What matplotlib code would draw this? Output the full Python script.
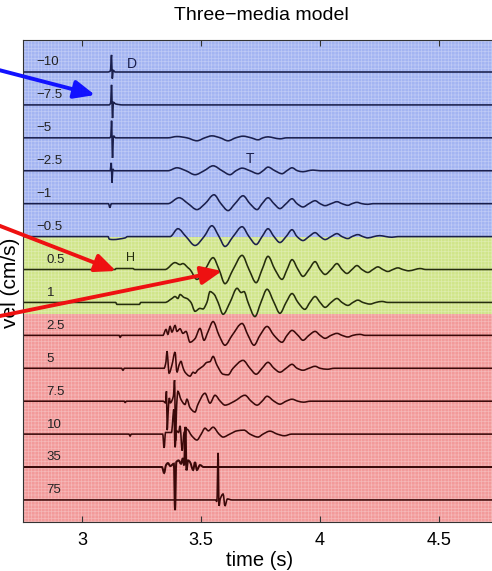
import matplotlib
matplotlib.use("Agg")
import matplotlib.pyplot as plt
from matplotlib.path import Path
from matplotlib.patches import PathPatch, FancyArrowPatch
import numpy as np

plt.rcParams['font.family'] = ['Liberation Sans', 'DejaVu Sans']
plt.rcParams['hatch.linewidth'] = 0.5

# station labels (top to bottom) and the seismogram:
# time in s, amplitude in units of the trace spacing
labels = ['\u221210', '\u22127.5', '\u22125', '\u22122.5', '\u22121', '\u22120.5',
          '0.5', '1', '2.5', '5', '7.5', '10', '35', '75']

t_m10 = [2.75, 3.108, 3.118, 3.123, 3.126, 3.130, 3.138, 4.75]
a_m10 = [0, 0, 0.03, 0.52, -0.20, 0.05, 0, 0]

t_m7p5 = [2.75, 3.112, 3.119, 3.123, 3.127, 3.131, 3.140, 3.170, 4.75]
a_m7p5 = [0, 0, 0.05, 0.61, -0.40, 0.08, 0.03, 0, 0]

t_m5 = [2.75, 3.115, 3.120, 3.123, 3.127, 3.131, 3.140, 3.360, 3.398, 3.440, 3.482,
        3.515, 3.545, 3.580, 3.613, 3.645, 3.676, 3.710, 3.739, 3.760, 3.781, 3.805,
        3.831, 3.860, 4.75]
a_m5 = [0, 0, 0.05, 0.52, -0.61, 0.06, 0, 0, 0.04, 0, -0.09,
        0, 0.06, 0, -0.09, 0, 0.05, 0, -0.06, 0, 0.03, 0,
        -0.03, 0, 0]

t_m2p5 = [2.75, 3.117, 3.122, 3.125, 3.128, 3.134, 3.360, 3.398, 3.436, 3.474, 3.512,
          3.550, 3.588, 3.621, 3.646, 3.672, 3.705, 3.739, 3.760, 3.781, 3.810, 3.840,
          3.860, 3.882, 3.905, 3.928, 3.950, 3.970, 4.000, 4.75]
a_m2p5 = [0, 0, 0.24, -0.36, 0.05, 0, 0, 0.09, 0, -0.12, 0,
          0.15, 0, -0.12, 0, 0.08, 0, -0.09, 0, 0.11, 0, -0.09,
          0, 0.09, 0, -0.03, 0, 0.02, 0, 0]

t_m1 = [2.75, 3.110, 3.116, 3.122, 3.360, 3.407, 3.445, 3.482, 3.516, 3.554, 3.583,
        3.613, 3.642, 3.676, 3.705, 3.735, 3.756, 3.781, 3.806, 3.831, 3.857, 3.882,
        3.903, 3.928, 3.953, 3.979, 4.000, 4.021, 4.046, 4.071, 4.092, 4.117, 4.134,
        4.155, 4.176, 4.201, 4.222, 4.75]
a_m1 = [0, 0, -0.12, 0, 0, 0.18, 0, -0.18, 0, 0.27, 0,
        -0.21, 0, 0.24, 0, -0.18, 0, 0.18, 0, -0.15, 0, 0.15,
        0, -0.10, 0, 0.09, 0, -0.06, 0, 0.06, 0, -0.05, 0,
        0.04, 0, -0.02, 0, 0]

t_m0p5 = [2.75, 3.108, 3.114, 3.130, 3.180, 3.190, 3.369, 3.402, 3.436, 3.474, 3.512,
          3.545, 3.575, 3.600, 3.634, 3.672, 3.701, 3.731, 3.756, 3.781, 3.806, 3.831,
          3.857, 3.882, 3.903, 3.928, 3.953, 3.979, 4.000, 4.021, 4.046, 4.071, 4.092,
          4.117, 4.134, 4.159, 4.180, 4.201, 4.226, 4.251, 4.277, 4.302, 4.327, 4.75]
a_m0p5 = [0, 0, -0.08, -0.09, -0.04, 0, 0, 0.24, 0, -0.27, 0,
          0.33, 0, -0.30, 0, 0.30, 0, -0.24, 0, 0.24, 0, -0.18,
          0, 0.21, 0, -0.12, 0, 0.12, 0, -0.09, 0, 0.09, 0,
          -0.06, 0, 0.06, 0, -0.04, 0, 0.03, 0, -0.02, 0, 0]

t_0p5 = [2.75, 3.138, 3.142, 3.213, 3.220, 3.348, 3.390, 3.411, 3.423, 3.445, 3.453,
         3.482, 3.516, 3.550, 3.575, 3.600, 3.634, 3.672, 3.701, 3.731, 3.756, 3.781,
         3.810, 3.840, 3.861, 3.882, 3.907, 3.928, 3.953, 3.979, 4.000, 4.021, 4.046,
         4.071, 4.092, 4.113, 4.134, 4.155, 4.176, 4.201, 4.222, 4.243, 4.264, 4.285,
         4.306, 4.327, 4.348, 4.373, 4.399, 4.420, 4.445, 4.75]
a_0p5 = [0, 0, 0.03, 0.03, 0, 0, 0.21, 0.15, 0.18, 0.05, 0,
         -0.30, 0, 0.36, 0, -0.43, 0, 0.43, 0, -0.40, 0, 0.40,
         0, -0.30, 0, 0.30, 0, -0.21, 0, 0.24, 0, -0.15, 0,
         0.18, 0, -0.12, 0, 0.12, 0, -0.09, 0, 0.08, 0, -0.06,
         0, 0.05, 0, -0.04, 0, 0.03, 0, 0]

t_1 = [2.75, 3.140, 3.146, 3.240, 3.246, 3.348, 3.377, 3.390, 3.402, 3.411, 3.428,
       3.440, 3.457, 3.474, 3.495, 3.507, 3.524, 3.537, 3.554, 3.571, 3.592, 3.621,
       3.651, 3.668, 3.680, 3.697, 3.726, 3.751, 3.777, 3.806, 3.831, 3.857, 3.882,
       3.907, 3.936, 3.957, 3.979, 4.000, 4.021, 4.046, 4.071, 4.092, 4.117, 4.138,
       4.159, 4.180, 4.210, 4.235, 4.260, 4.285, 4.75]
a_1 = [0, 0, -0.06, -0.06, 0, 0, 0.12, 0.18, 0.12, 0.24, 0.15,
       0.12, 0, -0.27, -0.18, -0.20, 0, 0.33, 0.25, 0, -0.36, 0,
       0.43, 0.30, 0.33, 0, -0.43, 0, 0.40, 0, -0.33, 0, 0.27,
       0, -0.21, 0, 0.18, 0, -0.15, 0, 0.12, 0, -0.09, 0,
       0.07, 0, -0.05, 0, 0.03, 0, 0]

t_2p5 = [2.75, 3.155, 3.159, 3.165, 3.339, 3.352, 3.360, 3.369, 3.377, 3.390, 3.398,
         3.411, 3.423, 3.436, 3.453, 3.474, 3.495, 3.512, 3.528, 3.550, 3.575, 3.600,
         3.630, 3.672, 3.697, 3.722, 3.747, 3.777, 3.806, 3.840, 3.861, 3.882, 3.907,
         3.928, 3.953, 3.979, 4.000, 4.021, 4.046, 4.071, 4.092, 4.117, 4.138, 4.167,
         4.190, 4.75]
a_2p5 = [0, 0, -0.06, 0, 0, 0.18, 0.03, 0.27, 0.10, 0.30, 0.12,
         0.20, 0.06, 0.12, -0.21, -0.10, 0.21, -0.15, 0.10, 0.42, 0, -0.30,
         0, 0.36, 0, -0.30, 0, 0.27, 0, -0.21, 0, 0.15, 0,
         -0.15, 0, 0.12, 0, -0.09, 0, 0.06, 0, -0.05, 0, 0.03,
         0, 0]

t_5 = [2.75, 3.165, 3.171, 3.177, 3.344, 3.352, 3.356, 3.365, 3.377, 3.390, 3.398,
       3.407, 3.415, 3.423, 3.432, 3.453, 3.466, 3.474, 3.486, 3.507, 3.524, 3.537,
       3.550, 3.566, 3.592, 3.613, 3.634, 3.676, 3.705, 3.731, 3.756, 3.781, 3.806,
       3.831, 3.857, 3.882, 3.903, 3.928, 3.953, 3.979, 4.000, 4.030, 4.060, 4.75]
a_5 = [0, 0, -0.06, 0, 0, 0.20, 0.52, -0.15, 0.10, 0.49, -0.12,
       0.10, 0.21, 0.03, -0.12, -0.24, -0.12, -0.15, -0.05, 0.06, 0.18, 0.20,
       0.36, 0.10, -0.18, -0.20, 0, 0.24, 0, -0.18, 0, 0.18, 0,
       -0.12, 0, 0.12, 0, -0.06, 0, 0.06, 0, -0.03, 0, 0]

t_7p5 = [2.75, 3.176, 3.180, 3.186, 3.340, 3.350, 3.354, 3.357, 3.362, 3.366, 3.370,
         3.383, 3.388, 3.392, 3.397, 3.402, 3.415, 3.432, 3.440, 3.453, 3.474, 3.486,
         3.516, 3.537, 3.558, 3.580, 3.600, 3.640, 3.684, 3.710, 3.735, 3.756, 3.777,
         3.806, 3.831, 3.857, 3.882, 3.907, 3.930, 3.960, 4.75]
a_7p5 = [0, 0, -0.04, 0, 0, -0.05, 0.30, -0.88, -0.20, 0.10, -0.05,
         0.15, 0.64, -1.20, -0.10, 0.30, 0.05, -0.10, 0.06, -0.20, -0.33, -0.10,
         0.24, -0.06, 0.18, 0, -0.12, 0, 0.18, 0, -0.12, 0, 0.15,
         0, -0.09, 0, 0.06, 0, -0.03, 0, 0]

t_10 = [2.75, 3.196, 3.201, 3.206, 3.338, 3.344, 3.350, 3.375, 3.385, 3.390, 3.396,
        3.405, 3.411, 3.420, 3.428, 3.440, 3.460, 3.482, 3.500, 3.516, 3.530, 3.550,
        3.575, 3.592, 3.620, 3.651, 3.680, 3.705, 3.739, 3.760, 3.789, 3.820, 3.850,
        3.880, 4.75]
a_10 = [0, 0, -0.06, 0, 0, -0.42, 0.05, 0.05, 0.75, -0.40, 0.10,
        0.05, 0.25, -0.50, 0.05, 0.15, -0.05, -0.18, 0, 0.18, 0.10, 0.21,
        0, -0.09, 0, 0.10, 0.12, 0, -0.09, 0, 0.09, 0, -0.05,
        0, 0]

t_35 = [2.75, 3.335, 3.344, 3.352, 3.360, 3.370, 3.385, 3.390, 3.395, 3.405, 3.415,
        3.423, 3.428, 3.434, 3.438, 3.445, 3.453, 3.466, 3.474, 3.482, 3.495, 3.510,
        4.75]
a_35 = [0, 0, -0.18, 0.06, 0.12, 0.03, 0.10, -1.31, 0.15, 0.20, 0.10,
        0.27, 0.05, 1.22, -0.10, 0.20, 0.15, -0.09, 0.15, -0.09, 0.06, 0,
        0]

t_75 = [2.75, 3.560, 3.566, 3.571, 3.575, 3.580, 3.592, 3.600, 3.610, 3.630, 4.75]
a_75 = [0, 0, -0.05, 1.43, -0.18, 0.03, 0.18, -0.18, 0.03, 0, 0]

times = [t_m10, t_m7p5, t_m5, t_m2p5, t_m1, t_m0p5, t_0p5, t_1,
         t_2p5, t_5, t_7p5, t_10, t_35, t_75]
amps = [a_m10, a_m7p5, a_m5, a_m2p5, a_m1, a_m0p5, a_0p5, a_1,
        a_2p5, a_5, a_7p5, a_10, a_35, a_75]

# which medium each trace sits in
medium = ['blue'] * 6 + ['green'] * 2 + ['red'] * 6
bg_colors = {'blue': '#a3b4f2', 'green': '#d0e58a', 'red': '#f29a9a'}
line_colors = {'blue': '#1a1f4c', 'green': '#252d0d', 'red': '#3a0909'}


def smooth_trace(x, y):
    """Path through the read points, with cubic segments so the wiggles stay round"""
    x = np.asarray(x, float)
    y = np.asarray(y, float)
    n = len(x)
    d = np.diff(y) / np.diff(x)
    m = np.zeros(n)
    for k in range(1, n - 1):
        if d[k - 1] * d[k] > 0:
            m[k] = 2.0 / (1.0 / d[k - 1] + 1.0 / d[k])
    verts = [(x[0], y[0])]
    codes = [Path.MOVETO]
    for k in range(n - 1):
        h = x[k + 1] - x[k]
        verts += [(x[k] + h / 3, y[k] + m[k] * h / 3),
                  (x[k + 1] - h / 3, y[k + 1] - m[k + 1] * h / 3),
                  (x[k + 1], y[k + 1])]
        codes += [Path.CURVE4] * 3
    return Path(verts, codes)


fig = plt.figure(figsize=(4.92, 5.71), dpi=100)
W, H = 492.0, 571.0
ax = fig.add_axes([23 / W, 49 / H, 471.5 / W, 482 / H])

ax.set_xlim(2.7506, 4.7334)
ax.set_ylim(-13.67, 0.972)

# media backgrounds
ax.axhspan(-5.01, 0.972, facecolor=bg_colors['blue'], edgecolor=(1, 1, 1, 0.3),
           hatch='+++++', linewidth=0, zorder=0)
ax.axhspan(-7.35, -5.01, facecolor=bg_colors['green'], edgecolor=(1, 1, 1, 0.3),
           hatch='+++++', linewidth=0, zorder=0)
ax.axhspan(-13.67, -7.35, facecolor=bg_colors['red'], edgecolor=(1, 1, 1, 0.3),
           hatch='+++++', linewidth=0, zorder=0)

for i, (t, a) in enumerate(zip(times, amps)):
    c = line_colors[medium[i]]
    path = smooth_trace(t, np.asarray(a) - i)
    ax.add_patch(PathPatch(path, fill=False, edgecolor=c,
                           lw=1.45 if labels[i] == '35' else 1.15, zorder=2))
    x0 = 2.805 if labels[i].startswith('\u2212') else 2.850
    ax.text(x0, -i + 0.29, labels[i], fontsize=9.5, color='#222222',
            ha='left', va='center', zorder=3)

# phase labels
ax.text(3.209, 0.24, 'D', fontsize=10, color='#1a1f4c', ha='center', va='center')
ax.text(3.705, -2.64, 'T', fontsize=10, color='#1a1f4c', ha='center', va='center')
ax.text(3.201, -5.65, 'H', fontsize=9, color='#252d0d', ha='center', va='center')

ax.set_xticks([3, 3.5, 4, 4.5])
ax.set_xticklabels(['3', '3.5', '4', '4.5'])
ax.set_yticks([])
ax.tick_params(axis='x', direction='in', top=True, length=4, pad=7,
               labelsize=13, color='#333333')
for s in ax.spines.values():
    s.set_color('#333333')
    s.set_linewidth(0.8)

fig.text(261 / W, 1 - 15 / H, 'Three\u2212media model', fontsize=14,
         ha='center', va='center')
fig.text(260 / W, 1 - 560 / H, 'time (s)', fontsize=14.5, ha='center', va='center')
fig.text(11 / W, 1 - 283 / H, 'vel (cm/s)', fontsize=15, rotation=90,
         ha='center', va='center')


def px(x, y):
    return (x / W, 1 - y / H)


arrows = [((-5, 69), (95, 95), '#1212ff'),
          ((-5, 224), (116, 271), '#ee1111'),
          ((-5, 317), (222, 271), '#ee1111')]
for a0, a1, c in arrows:
    fig.add_artist(FancyArrowPatch(px(*a0), px(*a1), transform=fig.transFigure,
                                   arrowstyle='-|>,head_length=0.5,head_width=0.22',
                                   mutation_scale=25, color=c, lw=2.8,
                                   shrinkA=0, shrinkB=0, zorder=10))

fig.savefig('out.png', dpi=100)
